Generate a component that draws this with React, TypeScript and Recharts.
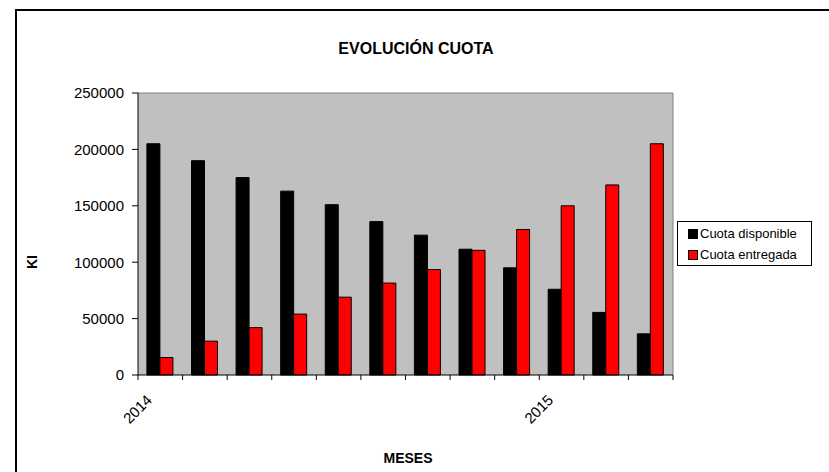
import React from 'react';
import { BarChart, Bar, XAxis, YAxis, CartesianGrid, Legend } from 'recharts';

const MONTHS = ['abr-14', 'may-14', 'jun-14', 'jul-14', 'ago-14', 'sep-14', 'oct-14', 'nov-14', 'dic-14', 'ene-15', 'feb-15', 'mar-15'];
const TICK_LABELS = ['2014', '', '', '', '', '', '', '', '', '2015', '', ''];
const DISPONIBLE = [205000, 190000, 175000, 163000, 151000, 136000, 124000, 111500, 95000, 76000, 55500, 36500];
const ENTREGADA = [15500, 30000, 42000, 54000, 69000, 81500, 93500, 110500, 129000, 150000, 168500, 205000];
const Y_TICKS = [0, 50000, 100000, 150000, 200000, 250000];

const FONT = 'Arial, "Liberation Sans", sans-serif';
const W = 829;
const H = 472;
const PLOT_LEFT = 138;
const PLOT_RIGHT = 673;
const PLOT_TOP = 93;
const PLOT_BOTTOM = 375;
const Y_AXIS_W = 60;
const X_AXIS_H = 40;
const BAND = (PLOT_RIGHT - PLOT_LEFT) / MONTHS.length;

const data = MONTHS.map((m, i) => ({
  month: m,
  disponible: DISPONIBLE[i],
  entregada: ENTREGADA[i],
}));

function MonthTick(props: any) {
  const { x, y, index } = props;
  const left = x - BAND / 2;
  const label = TICK_LABELS[index];
  const tx = left + 15;
  const ty = y + 26;
  return (
    <g>
      <line x1={left} x2={left} y1={y} y2={y + 5} stroke="#000" />
      {index === MONTHS.length - 1 && (
        <line x1={x + BAND / 2} x2={x + BAND / 2} y1={y} y2={y + 5} stroke="#000" />
      )}
      {label && (
        <text
          x={tx}
          y={ty}
          transform={`rotate(-45, ${tx}, ${ty})`}
          textAnchor="end"
          fontSize={15}
          fontFamily={FONT}
          fill="#000"
        >
          {label}
        </text>
      )}
    </g>
  );
}

function KiLabel() {
  return (
    <text
      x={37}
      y={262}
      transform="rotate(-90, 37, 262)"
      textAnchor="middle"
      fontSize={14}
      fontWeight="bold"
      fontFamily={FONT}
      fill="#000"
    >
      KI
    </text>
  );
}

function MesesLabel() {
  return (
    <text x={408} y={463} textAnchor="middle" fontSize={14} fontWeight="bold" fontFamily={FONT} fill="#000">
      MESES
    </text>
  );
}

function LegendBox() {
  const items = [
    { name: 'Cuota disponible', color: '#000000' },
    { name: 'Cuota entregada', color: '#FF0000' },
  ];
  return (
    <div
      style={{
        border: '1px solid #000',
        background: '#fff',
        width: 133,
        height: 42,
        boxSizing: 'content-box',
        fontFamily: FONT,
        fontSize: 13,
        color: '#000',
        paddingTop: 1,
      }}
    >
      {items.map((it) => (
        <div key={it.name} style={{ display: 'flex', alignItems: 'center', height: 21, paddingLeft: 10 }}>
          <span style={{ width: 8, height: 8, background: it.color, border: '1px solid #000', marginRight: 2 }} />
          <span>{it.name}</span>
        </div>
      ))}
    </div>
  );
}

export default function App() {
  return (
    <div style={{ position: 'absolute', left: 0, top: 0, width: W, height: H, overflow: 'hidden', background: '#fff' }}>
      <div
        style={{
          position: 'absolute',
          left: 15,
          top: 9,
          width: W,
          height: H,
          border: '2px solid #000',
        }}
      />
      <div
        style={{
          position: 'absolute',
          left: 0,
          width: 832,
          top: 40,
          textAlign: 'center',
          fontFamily: FONT,
          fontWeight: 'bold',
          fontSize: 16,
          color: '#000',
        }}
      >
        EVOLUCIÓN CUOTA
      </div>
      <div style={{ position: 'absolute', left: 0, top: 0 }}>
        <BarChart
          width={W}
          height={H}
          data={data}
          margin={{
            top: PLOT_TOP,
            right: W - PLOT_RIGHT,
            bottom: H - PLOT_BOTTOM - X_AXIS_H,
            left: PLOT_LEFT - Y_AXIS_W,
          }}
          barCategoryGap="20%"
          barGap={0}
        >
          <CartesianGrid
            fill="#C0C0C0"
            stroke="#808080"
            horizontalCoordinatesGenerator={() => [PLOT_TOP]}
            verticalCoordinatesGenerator={() => [PLOT_RIGHT]}
          />
          <XAxis
            dataKey="month"
            height={X_AXIS_H}
            interval={0}
            tickLine={false}
            tickSize={0}
            tickMargin={0}
            axisLine={{ stroke: '#000' }}
            tick={<MonthTick />}
            label={<MesesLabel />}
          />
          <YAxis
            width={Y_AXIS_W}
            domain={[0, 250000]}
            ticks={Y_TICKS}
            interval={0}
            tickSize={6}
            tickMargin={8}
            axisLine={{ stroke: '#000' }}
            tickLine={{ stroke: '#000' }}
            tick={{ fill: '#000', fontSize: 15, fontFamily: FONT }}
            label={<KiLabel />}
          />
          <Legend
            layout="vertical"
            align="center"
            verticalAlign="middle"
            wrapperStyle={{ left: 677, top: 221, width: 135, height: 44 }}
            content={() => <LegendBox />}
          />
          <Bar dataKey="disponible" name="Cuota disponible" fill="#000000" stroke="#000" strokeWidth={1} isAnimationActive={false} />
          <Bar dataKey="entregada" name="Cuota entregada" fill="#FF0000" stroke="#000" strokeWidth={1} isAnimationActive={false} />
        </BarChart>
      </div>
    </div>
  );
}
